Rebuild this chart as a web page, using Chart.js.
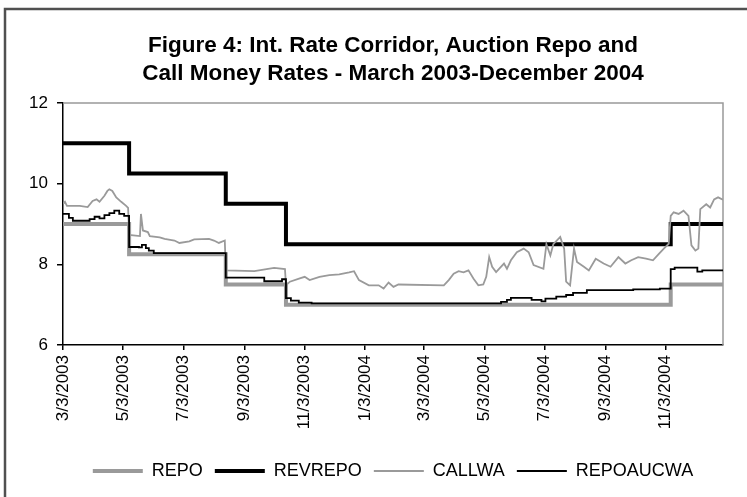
<!DOCTYPE html>
<html>
<head>
<meta charset="utf-8">
<title>Figure 4: Int. Rate Corridor, Auction Repo and Call Money Rates</title>
<script src="https://cdn.jsdelivr.net/npm/chart.js@4.4.0/dist/chart.umd.min.js"></script>
<style>
    html, body { margin: 0; padding: 0; background: #fff; }
    canvas { display: block; }
</style>
</head>
<body>
<canvas id="chart" width="747" height="497"></canvas>
<script>
// policy corridor (step changes)
const policyDates = ['2003-03-03', '2003-05-09', '2003-08-15', '2003-10-15', '2004-11-08', '2004-12-31'];
const repoRates = [9.0, 8.25, 7.5, 7.0, 7.5, 7.5];
const revRepoRates = [11.0, 10.25, 9.5, 8.5, 9.0, 9.0];

// call money weighted average
const callDates = [
    '2003-03-03', '2003-03-05', '2003-03-07', '2003-03-20', '2003-03-28', '2003-04-02', '2003-04-06', '2003-04-09',
    '2003-04-14', '2003-04-17', '2003-04-19', '2003-04-22', '2003-04-26', '2003-05-01', '2003-05-06', '2003-05-08',
    '2003-05-09', '2003-05-20', '2003-05-21', '2003-05-23', '2003-05-28', '2003-05-30', '2003-06-09', '2003-06-14',
    '2003-06-24', '2003-06-29', '2003-07-09', '2003-07-14', '2003-07-29', '2003-08-03', '2003-08-08', '2003-08-14',
    '2003-08-15', '2003-09-13', '2003-10-03', '2003-10-14', '2003-10-15', '2003-10-19', '2003-10-29', '2003-11-03',
    '2003-11-08', '2003-11-18', '2003-11-28', '2003-12-08', '2003-12-18', '2003-12-23', '2003-12-28', '2004-01-07',
    '2004-01-17', '2004-01-22', '2004-01-27', '2004-02-01', '2004-02-06', '2004-03-23', '2004-03-28', '2004-04-02',
    '2004-04-07', '2004-04-12', '2004-04-17', '2004-04-22', '2004-04-27', '2004-05-02', '2004-05-05', '2004-05-08',
    '2004-05-11', '2004-05-15', '2004-05-18', '2004-05-23', '2004-05-26', '2004-05-30', '2004-06-05', '2004-06-12',
    '2004-06-17', '2004-06-22', '2004-07-02', '2004-07-05', '2004-07-09', '2004-07-12', '2004-07-19', '2004-07-23',
    '2004-07-25', '2004-07-29', '2004-08-02', '2004-08-05', '2004-08-12', '2004-08-17', '2004-08-24', '2004-09-01',
    '2004-09-08', '2004-09-16', '2004-09-23', '2004-09-29', '2004-10-06', '2004-10-14', '2004-10-21', '2004-10-27',
    '2004-11-01', '2004-11-06', '2004-11-08', '2004-11-11', '2004-11-16', '2004-11-21', '2004-11-26', '2004-11-29',
    '2004-12-03', '2004-12-06', '2004-12-08', '2004-12-14', '2004-12-18', '2004-12-22', '2004-12-26', '2004-12-31'
];
const callRates = [
    9.5, 9.55, 9.45, 9.45, 9.42, 9.57, 9.61, 9.55,
    9.7, 9.82, 9.86, 9.82, 9.66, 9.55, 9.45, 9.4,
    8.73, 8.7, 9.25, 8.84, 8.8, 8.7, 8.67, 8.63,
    8.59, 8.53, 8.57, 8.62, 8.63, 8.59, 8.53, 8.59,
    7.85, 7.83, 7.91, 7.88, 7.48, 7.57, 7.65, 7.69,
    7.61, 7.69, 7.73, 7.75, 7.8, 7.83, 7.61, 7.48,
    7.48, 7.4, 7.55, 7.44, 7.5, 7.48, 7.61, 7.77,
    7.83, 7.8, 7.85, 7.65, 7.48, 7.5, 7.69, 8.18,
    7.94, 7.81, 7.89, 8.02, 7.89, 8.1, 8.3, 8.39,
    8.3, 7.98, 7.89, 8.5, 8.22, 8.5, 8.68, 8.39,
    7.57, 7.48, 8.39, 8.06, 7.94, 7.85, 8.14, 8.02,
    7.94, 8.18, 8.02, 8.1, 8.18, 8.14, 8.1, 8.26,
    8.39, 8.51, 9.2, 9.29, 9.25, 9.33, 9.2, 8.47,
    8.34, 8.39, 9.37, 9.49, 9.41, 9.61, 9.66, 9.6
];

// repo auction weighted average
const auctionDates = [
    '2003-03-03', '2003-03-09', '2003-03-13', '2003-03-30', '2003-04-04', '2003-04-09', '2003-04-14', '2003-04-19',
    '2003-04-24', '2003-04-29', '2003-05-04', '2003-05-09', '2003-05-19', '2003-05-22', '2003-05-26', '2003-05-29',
    '2003-06-03', '2003-08-15', '2003-09-23', '2003-10-11', '2003-10-15', '2003-10-20', '2003-10-28', '2003-11-10',
    '2004-05-20', '2004-05-26', '2004-05-30', '2004-06-20', '2004-06-30', '2004-07-04', '2004-07-15', '2004-07-25',
    '2004-08-01', '2004-08-15', '2004-10-01', '2004-10-28', '2004-11-08', '2004-11-12', '2004-12-05', '2004-12-10',
    '2004-12-31'
];
const auctionRates = [
    9.25, 9.15, 9.08, 9.12, 9.18, 9.14, 9.22, 9.27,
    9.33, 9.25, 9.2, 8.43, 8.42, 8.48, 8.4, 8.34,
    8.28, 7.67, 7.58, 7.63, 7.16, 7.1, 7.05, 7.03,
    7.07, 7.12, 7.17, 7.12, 7.08, 7.15, 7.2, 7.24,
    7.29, 7.36, 7.38, 7.4, 7.88, 7.92, 7.82, 7.85,
    7.85
];

// x axis
const tickDates = ['2003-03-03', '2003-05-03', '2003-07-03', '2003-09-03', '2003-11-03', '2004-01-03',
    '2004-03-03', '2004-05-03', '2004-07-03', '2004-09-03', '2004-11-03'];
const tickLabels = ['3/3/2003', '5/3/2003', '7/3/2003', '9/3/2003', '11/3/2003', '1/3/2004',
    '3/3/2004', '5/3/2004', '7/3/2004', '9/3/2004', '11/3/2004'];

const START = Date.UTC(2003, 2, 3);
function dayOf(s) {
    let p = s.split('-').map(Number);
    return (Date.UTC(p[0], p[1] - 1, p[2]) - START) / 86400000;
}
function series(dates, values) {
    return dates.map((d, i) => ({ x: dayOf(d), y: values[i] }));
}

const FONT = 'Liberation Sans, Arial, sans-serif';

// white page, outer frame and plot box
const framePlugin = {
    id: 'frame',
    beforeDraw(chart) {
        let ctx = chart.ctx;
        ctx.save();
        ctx.fillStyle = '#fff';
        ctx.fillRect(0, 0, chart.width, chart.height);
        ctx.strokeStyle = '#505050';
        ctx.lineWidth = 2.5;
        ctx.beginPath();
        ctx.moveTo(5, chart.height);
        ctx.lineTo(5, 9);
        ctx.lineTo(chart.width, 9);
        ctx.stroke();
        ctx.restore();
    },
    beforeDatasetsDraw(chart) {
        let a = chart.chartArea;
        let ctx = chart.ctx;
        ctx.save();
        ctx.strokeStyle = '#999';
        ctx.lineWidth = 1.5;
        ctx.beginPath();
        ctx.moveTo(a.left, a.top);
        ctx.lineTo(a.right, a.top);
        ctx.lineTo(a.right, a.bottom);
        ctx.stroke();
        ctx.restore();
    }
};

const ctx = document.getElementById('chart').getContext('2d');
const chart = new Chart(ctx, {
    type: 'line',
    data: {
        datasets: [{
            label: 'REPO',
            data: series(policyDates, repoRates),
            borderColor: '#9a9a9a',
            borderWidth: 4,
            stepped: true,
            order: 4
        }, {
            label: 'REVREPO',
            data: series(policyDates, revRepoRates),
            borderColor: '#000',
            borderWidth: 4,
            stepped: true,
            order: 3
        }, {
            label: 'CALLWA',
            data: series(callDates, callRates),
            borderColor: '#9a9a9a',
            borderWidth: 1.8,
            order: 2
        }, {
            label: 'REPOAUCWA',
            data: series(auctionDates, auctionRates),
            borderColor: '#000',
            borderWidth: 1.8,
            stepped: true,
            order: 1
        }]
    },
    options: {
        responsive: false,
        animation: false,
        devicePixelRatio: 1,
        elements: { point: { radius: 0 } },
        layout: { padding: { left: 0, right: 24, top: 0, bottom: 7 } },
        plugins: {
            title: {
                display: true,
                fullSize: false,
                text: ['Figure 4: Int. Rate Corridor, Auction Repo and', 'Call Money Rates - March 2003-December 2004'],
                color: '#000',
                font: { family: FONT, size: 22.5, weight: 'bold', lineHeight: '28px' },
                padding: { top: 32, bottom: 15 }
            },
            legend: {
                position: 'bottom',
                fullSize: false,
                labels: {
                    usePointStyle: true,
                    pointStyle: 'line',
                    pointStyleWidth: 50,
                    padding: 12,
                    color: '#000',
                    font: { family: FONT, size: 18 },
                    sort: (a, b) => a.datasetIndex - b.datasetIndex
                }
            },
            tooltip: { enabled: false }
        },
        scales: {
            x: {
                type: 'linear',
                min: 0,
                max: dayOf('2004-12-31'),
                afterBuildTicks: (scale) => {
                    scale.ticks = tickDates.map(d => ({ value: dayOf(d) }));
                },
                afterFit: (scale) => { scale.height = 105; },
                ticks: {
                    autoSkip: false,
                    minRotation: 90,
                    maxRotation: 90,
                    padding: 5,
                    color: '#000',
                    font: { family: FONT, size: 17 },
                    callback: (value, index) => tickLabels[index]
                },
                grid: { drawOnChartArea: false, tickLength: 5, color: '#000', lineWidth: 1.5 },
                border: { color: '#000', width: 1.5 }
            },
            y: {
                min: 6,
                max: 12,
                afterFit: (scale) => { scale.width = 63; },
                ticks: {
                    stepSize: 2,
                    padding: 9,
                    color: '#000',
                    font: { family: FONT, size: 17 }
                },
                grid: { drawOnChartArea: false, tickLength: 6, color: '#000', lineWidth: 1.5 },
                border: { color: '#000', width: 1.5 }
            }
        }
    },
    plugins: [framePlugin]
});
</script>
</body>
</html>
